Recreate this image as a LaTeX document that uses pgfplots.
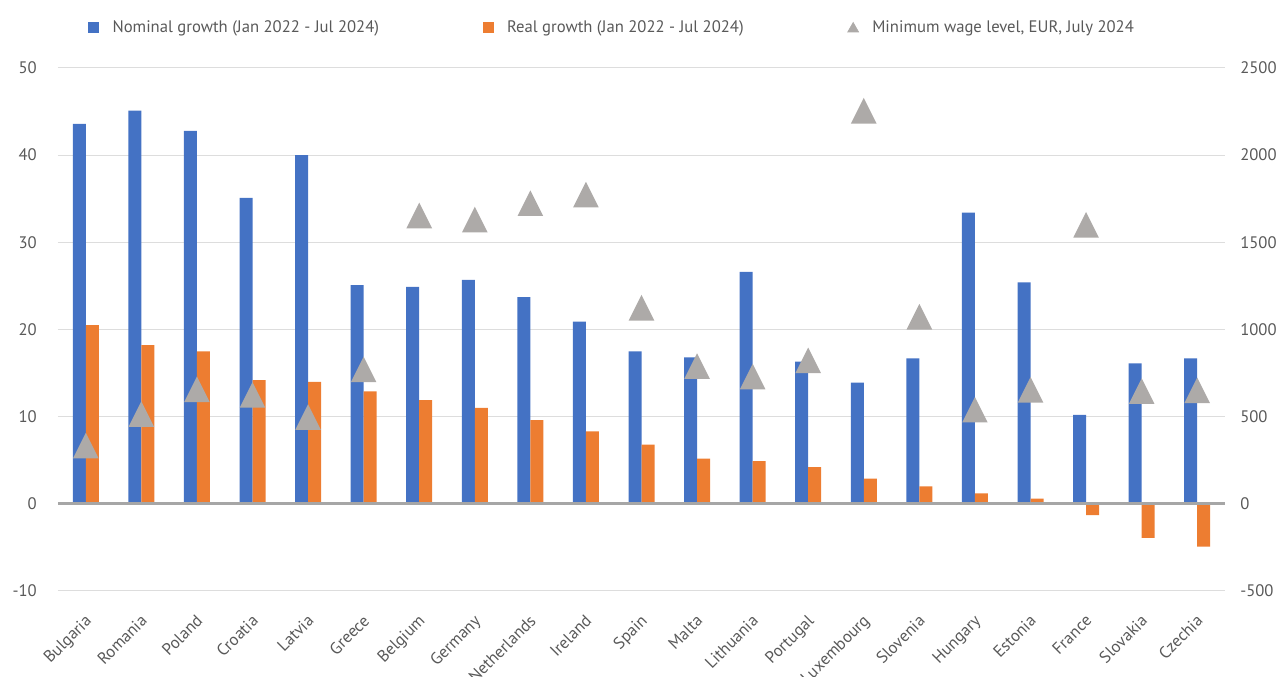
\documentclass[border=0pt]{standalone}
\usepackage{pgfplots}
\pgfplotsset{compat=1.18}
\usepackage{fontspec}
\setmainfont{PT Sans}
\definecolor{nomblue}{HTML}{4472C4}
\definecolor{realorange}{HTML}{ED7D31}
\definecolor{wagegray}{HTML}{ADAAA8}
\definecolor{txtgray}{HTML}{595959}
\definecolor{gridgray}{HTML}{DDDDDD}
\definecolor{zerogray}{HTML}{A6A6A6}
\pgfdeclareplotmark{xltri}{%
  \pgfpathmoveto{\pgfqpoint{0pt}{\pgfplotmarksize}}%
  \pgfpathlineto{\pgfqpoint{\pgfplotmarksize}{-\pgfplotmarksize}}%
  \pgfpathlineto{\pgfqpoint{-\pgfplotmarksize}{-\pgfplotmarksize}}%
  \pgfpathclose\pgfusepathqfill}
\pgfplotsset{
  common/.style={
    at={(0pt,0pt)}, anchor=south west,
    scale only axis, width=875.25pt, height=392.25pt,
    xmin=-0.5, xmax=20.5,
    major tick length=0pt,
    tick style={draw=none},
    /pgf/number format/assume math mode=true,
    /pgf/number format/1000 sep={},
    tick label style={font=\fontsize{12.5}{14}\selectfont, text=txtgray},
  }
}
\begin{document}
\begin{tikzpicture}
\useasboundingbox (-43.5pt,-64.5pt) rectangle (915pt,443.25pt);
\begin{axis}[common,
  ymin=-10, ymax=50, ytick={-10,0,...,50},
  axis line style={draw=none},
  ymajorgrids, grid style={gridgray, line width=0.75pt},
  xtick={0,...,20},
  xticklabels={Bulgaria,Romania,Poland,Croatia,Latvia,Greece,Belgium,Germany,Netherlands,Ireland,Spain,Malta,Lithuania,Portugal,Luxembourg,Slovenia,Hungary,Estonia,France,Slovakia,Czechia},
  xticklabel style={rotate=45, anchor=north east, inner sep=0pt, xshift=-12.8pt, yshift=-10.9pt},
  yticklabel style={anchor=east, inner sep=0pt, xshift=-15.75pt},
  ybar=0pt, bar width=9.75pt,
  legend columns=3,
  legend style={draw=none, fill=none, inner sep=0pt, at={(0.0257,1.078)}, anchor=west,
    font=\fontsize{12.5}{14}\selectfont, text=txtgray,
    /tikz/every odd column/.append style={column sep=8pt},
    /tikz/every even column/.append style={column sep=75.75pt}},
  legend cell align=left,
]
\addplot[fill=nomblue, draw=none,
  legend image code/.code={\fill[nomblue] (0pt,-4.1pt) rectangle (8.25pt,4.1pt);}]
  coordinates {(0,43.6) (1,45.1) (2,42.8) (3,35.1) (4,40.0) (5,25.1) (6,24.9) (7,25.7) (8,23.7) (9,20.9) (10,17.5) (11,16.8) (12,26.6) (13,16.3) (14,13.9) (15,16.7) (16,33.4) (17,25.4) (18,10.2) (19,16.1) (20,16.7)};
\addlegendentry{Nominal growth (Jan 2022 - Jul 2024)}
\addplot[fill=realorange, draw=none,
  legend image code/.code={\fill[realorange] (0pt,-4.1pt) rectangle (8.25pt,4.1pt);}]
  coordinates {(0,20.5) (1,18.2) (2,17.5) (3,14.2) (4,14.0) (5,12.9) (6,11.9) (7,11.0) (8,9.6) (9,8.3) (10,6.8) (11,5.2) (12,4.9) (13,4.2) (14,2.9) (15,2.0) (16,1.2) (17,0.6) (18,-1.3) (19,-3.9) (20,-4.9)};
\addlegendentry{Real growth (Jan 2022 - Jul 2024)}
\addlegendimage{legend image code/.code={\fill[wagegray] (0pt,-3.6pt) -- (8.25pt,-3.6pt) -- (4.125pt,3.6pt) -- cycle;}}
\addlegendentry{Minimum wage level, EUR, July 2024}
\draw[zerogray, line width=2.25pt] (axis cs:-0.5,0) -- (axis cs:20.5,0);
\end{axis}
\begin{axis}[common,
  ymin=-500, ymax=2500, ytick={-500,0,...,2500},
  axis x line=none, axis y line*=right,
  y axis line style={draw=none},
  xtick=\empty,
  yticklabel style={anchor=west, inner sep=0pt, xshift=11.25pt},
]
\addplot[only marks, mark=xltri, mark size=9.6pt, mark options={fill=wagegray, draw=none}]
  coordinates {(0,334) (1,515) (2,657) (3,625) (4,498) (5,771) (6,1654) (7,1631) (8,1725) (9,1774) (10,1125) (11,790) (12,730) (13,823) (14,2255) (15,1073) (16,540) (17,654) (18,1601) (19,647) (20,651)};
\end{axis}
\end{tikzpicture}
\end{document}
